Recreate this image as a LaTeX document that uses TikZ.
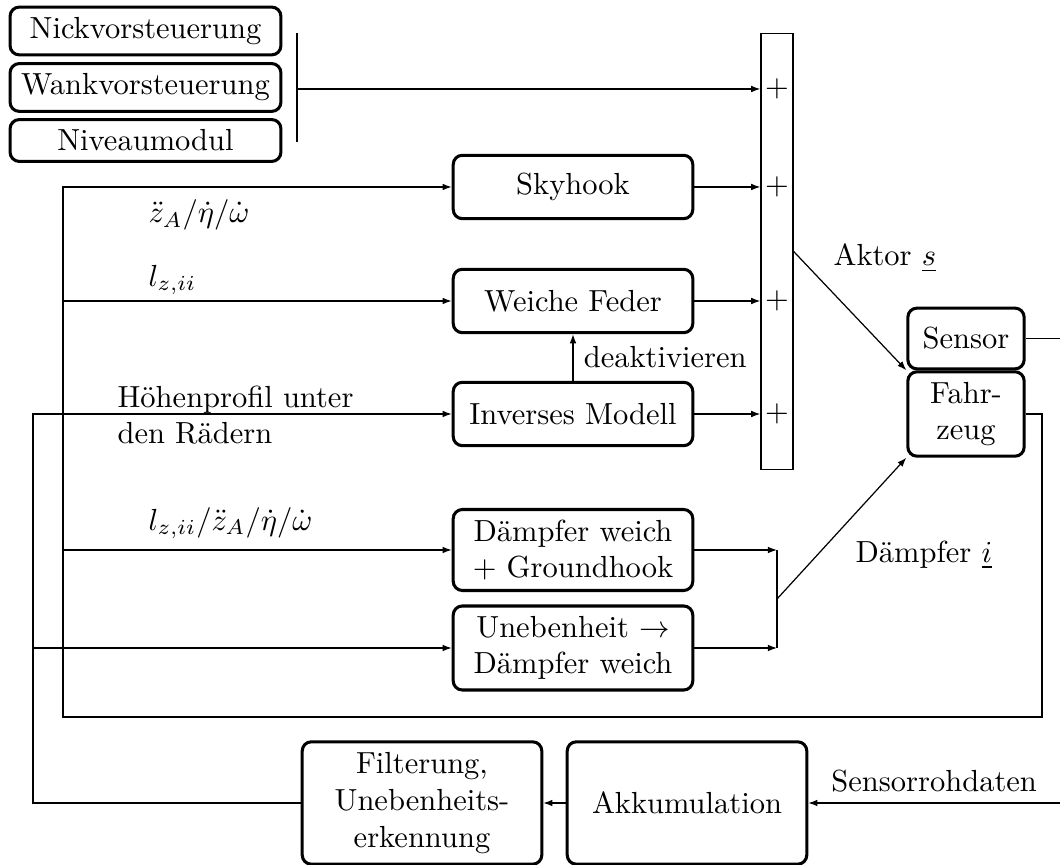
\documentclass[tikz,border=0pt]{standalone}
\usetikzlibrary{arrows.meta}

\begin{document}
\begin{tikzpicture}[>={Latex[length=3pt,width=2.2pt]}, x=1.152cm, y=-1.152cm,
    block/.style={draw, line width=1pt, rounded corners=3pt, align=center, minimum width=2.76cm, minimum height=0.73cm},
    pre/.style={draw, line width=1pt, rounded corners=3pt, minimum width=3.12cm, inner xsep=1pt},
    lbl/.style={anchor=west, inner sep=0pt, align=left}]
    \useasboundingbox (0,0) rectangle (10.6,8.65);
    % Vorsteuerung
    \node[pre] (nick) at (1.455,0.31) {Nickvorsteuerung};
    \node[pre] (wank) at (1.455,0.875) {Wankvorsteuerung};
    \node[pre] (niveau) at (1.455,1.405) {Niveaumodul};
    \coordinate (vtop) at (2.97,0.33);
    \coordinate (vbot) at (2.97,1.42);
    \coordinate (vmid) at (2.97,0.89);
    \draw (vtop) -- (vbot);

    % Summenbalken
    \node[draw, minimum width=0.37cm, minimum height=5.03cm, inner sep=0pt] (sum) at (7.77,2.515) {};
    \foreach \y [count=\i] in {0.89,1.87,3.01,4.14}
        \node (p\i) at (7.77,\y) {$+$};

    % Regler
    \node[block] (sky) at (5.73,1.87) {Skyhook};
    \node[block] (feder) at (5.73,3.01) {Weiche Feder};
    \node[block] (invers) at (5.73,4.14) {Inverses Modell};
    \node[block] (daempfer) at (5.73,5.50) {Dämpfer weich\\+ Groundhook};
    \node[block] (uneben) at (5.73,6.48) {Unebenheit $\rightarrow$\\Dämpfer weich};

    % Fahrzeug
    \node[block, minimum width=1.34cm, minimum height=0.70cm] (sensor) at (9.66,3.385) {Sensor};
    \node[block, minimum width=1.34cm] (fahrzeug) at (9.66,4.14) {Fahr-\\zeug};

    % Verarbeitung
    \node[block, minimum height=1.41cm] (filter) at (4.22,8.03) {Filterung,\\Unebenheits-\\erkennung};
    \node[block, minimum height=1.41cm] (akku) at (6.87,8.03) {Akkumulation};

    \draw[->] (vmid) -- (vmid -| sum.west);
    \draw[->] (sky.east) -- (sky.east -| sum.west);
    \draw[->] (feder.east) -- (feder.east -| sum.west);
    \draw[->] (invers.east) -- (invers.east -| sum.west);
    \draw[->] (invers.north) -- (feder.south) node[midway, right] {deaktivieren};

    \draw[->] (sum.east) -- (fahrzeug.north west);
    \node[lbl] at (8.33,2.58) {Aktor $\underline{s}$};

    \coordinate (dj) at (7.77,5.99);
    \draw[->] (daempfer.east) -- (daempfer.east -| dj);
    \draw[->] (uneben.east) -- (uneben.east -| dj);
    \draw (daempfer.east -| dj) -- (uneben.east -| dj);
    \draw[->] (dj) -- (fahrzeug.south west);
    \node[lbl] at (8.55,5.55) {Dämpfer $\underline{i}$};

    % Rueckfuehrung
    \coordinate (r1) at (10.42,7.17);
    \coordinate (l1) at (0.63,7.17);
    \draw[->] (fahrzeug.east) -| (r1) -- (l1) |- (sky.west);
    \draw[->] (l1 |- feder.west) -- (feder.west);
    \draw[->] (l1 |- daempfer.west) -- (daempfer.west);
    \node[lbl] at (1.48,2.15) {$\ddot{z}_A/\dot{\eta}/\dot{\omega}$};
    \node[lbl] at (1.48,2.80) {$l_{z,ii}$};
    \node[lbl] at (1.48,5.23) {$l_{z,ii}/\ddot{z}_A/\dot{\eta}/\dot{\omega}$};

    \coordinate (l2) at (0.33,8.03);
    \draw[->] (filter.west) -- (l2) |- (invers.west);
    \draw[->] (l2 |- uneben.west) -- (uneben.west);
    \node[lbl] at (1.17,4.15) {Höhenprofil unter\\den Rädern};

    \coordinate (sout) at (10.6,3.385);
    \coordinate (sin) at (10.6,8.03);
    \draw (sensor.east) -- (sout);
    \draw[->] (sin) -- (akku.east) node[midway, above] {Sensorrohdaten};
    \draw[->] (akku.west) -- (filter.east);
\end{tikzpicture}
\end{document}
